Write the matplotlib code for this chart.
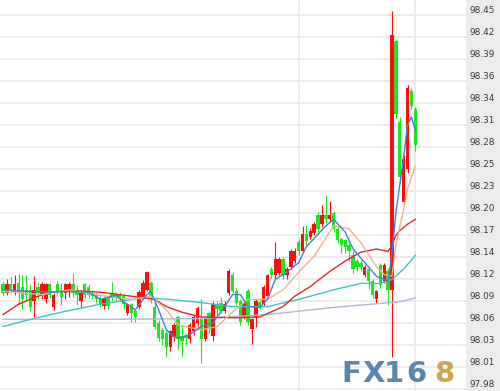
import numpy as np
import matplotlib
matplotlib.use("Agg")
import matplotlib.pyplot as plt
from matplotlib import transforms

# ---- candle data (OHLC), red = up, green = down ----
opens = [98.111, 98.100, 98.111, 98.101, 98.112, 98.108, 98.104, 98.104, 98.090, 98.108,
         98.098, 98.092, 98.111, 98.082, 98.111, 98.104, 98.100, 98.104, 98.111, 98.104,
         98.090, 98.111, 98.108, 98.100, 98.098, 98.092, 98.084, 98.094, 98.100, 98.099,
         98.099, 98.096, 98.075, 98.086, 98.078, 98.083, 98.095, 98.104, 98.113, 98.082,
         98.062, 98.054, 98.050, 98.033, 98.045, 98.070, 98.046, 98.048, 98.042, 98.052,
         98.062, 98.068, 98.042, 98.075, 98.046, 98.086, 98.088, 98.078, 98.100, 98.123,
         98.103, 98.090, 98.070, 98.103, 98.055, 98.070, 98.089, 98.086, 98.096, 98.130,
         98.122, 98.125, 98.142, 98.122, 98.133, 98.140, 98.164, 98.153, 98.174, 98.170,
         98.175, 98.198, 98.186, 98.198, 98.192, 98.200, 98.180, 98.167, 98.166, 98.160,
         98.148, 98.140, 98.138, 98.123, 98.130, 98.115, 98.092, 98.135, 98.115, 98.128,
         98.104, 98.415, 98.314, 98.214, 98.255, 98.353, 98.330]
highs = [98.115, 98.117, 98.120, 98.122, 98.124, 98.122, 98.123, 98.110, 98.121, 98.112,
         98.114, 98.113, 98.113, 98.100, 98.115, 98.113, 98.113, 98.114, 98.125, 98.110,
         98.104, 98.113, 98.111, 98.104, 98.101, 98.096, 98.095, 98.098, 98.114, 98.101,
         98.101, 98.099, 98.088, 98.088, 98.080, 98.104, 98.116, 98.128, 98.115, 98.092,
         98.066, 98.058, 98.054, 98.054, 98.062, 98.073, 98.060, 98.050, 98.062, 98.072,
         98.084, 98.092, 98.070, 98.078, 98.090, 98.090, 98.095, 98.090, 98.130, 98.126,
         98.106, 98.093, 98.090, 98.105, 98.069, 98.092, 98.092, 98.110, 98.124, 98.133,
         98.164, 98.145, 98.145, 98.133, 98.155, 98.156, 98.167, 98.184, 98.185, 98.181,
         98.189, 98.201, 98.210, 98.222, 98.215, 98.203, 98.183, 98.170, 98.168, 98.163,
         98.152, 98.143, 98.141, 98.135, 98.133, 98.118, 98.104, 98.138, 98.138, 98.131,
         98.452, 98.418, 98.320, 98.272, 98.360, 98.356, 98.333]
lows = [98.096, 98.098, 98.100, 98.098, 98.086, 98.080, 98.090, 98.078, 98.070, 98.092,
        98.092, 98.088, 98.094, 98.079, 98.098, 98.085, 98.092, 98.095, 98.095, 98.085,
        98.082, 98.092, 98.094, 98.092, 98.088, 98.082, 98.080, 98.080, 98.090, 98.090,
        98.090, 98.080, 98.072, 98.064, 98.064, 98.080, 98.092, 98.102, 98.088, 98.055,
        98.040, 98.035, 98.020, 98.028, 98.040, 98.030, 98.020, 98.035, 98.038, 98.048,
        98.058, 98.012, 98.040, 98.050, 98.040, 98.070, 98.075, 98.075, 98.097, 98.100,
        98.085, 98.060, 98.067, 98.060, 98.036, 98.058, 98.080, 98.084, 98.094, 98.119,
        98.118, 98.122, 98.118, 98.118, 98.130, 98.137, 98.148, 98.150, 98.160, 98.167,
        98.172, 98.176, 98.183, 98.188, 98.189, 98.176, 98.162, 98.150, 98.150, 98.140,
        98.125, 98.128, 98.128, 98.120, 98.105, 98.094, 98.088, 98.106, 98.112, 98.085,
        98.020, 98.318, 98.238, 98.210, 98.250, 98.330, 98.278]
closes = [98.100, 98.111, 98.104, 98.111, 98.101, 98.092, 98.098, 98.083, 98.104, 98.100,
          98.111, 98.111, 98.098, 98.098, 98.102, 98.095, 98.111, 98.111, 98.100, 98.098,
          98.100, 98.098, 98.098, 98.096, 98.092, 98.086, 98.092, 98.084, 98.094, 98.094,
          98.093, 98.086, 98.086, 98.075, 98.070, 98.101, 98.113, 98.126, 98.095, 98.058,
          98.044, 98.042, 98.033, 98.052, 98.060, 98.042, 98.040, 98.044, 98.060, 98.070,
          98.081, 98.042, 98.067, 98.055, 98.086, 98.080, 98.078, 98.086, 98.128, 98.103,
          98.088, 98.064, 98.088, 98.064, 98.067, 98.090, 98.083, 98.108, 98.122, 98.122,
          98.142, 98.142, 98.122, 98.130, 98.152, 98.153, 98.152, 98.174, 98.165, 98.178,
          98.186, 98.180, 98.198, 98.192, 98.198, 98.180, 98.166, 98.160, 98.158, 98.152,
          98.130, 98.133, 98.132, 98.132, 98.115, 98.098, 98.102, 98.110, 98.135, 98.104,
          98.422, 98.324, 98.245, 98.268, 98.356, 98.334, 98.285]

# ---- moving-average lines (read at candle indices) ----
ma5_idx = [0, 7, 12, 17, 22, 25, 29, 31, 34, 37, 38, 40, 42, 44, 46, 48, 51, 54, 57, 59,
           61, 63, 66, 68, 70, 73, 76, 78, 79, 83, 85, 88, 90, 93, 96, 98, 99, 100, 101,
           102, 103, 104, 105, 106]
ma5_val = [98.104, 98.102, 98.101, 98.102, 98.101, 98.092, 98.097, 98.089, 98.079, 98.098,
           98.102, 98.079, 98.054, 98.045, 98.044, 98.048, 98.058, 98.063, 98.083, 98.098,
           98.098, 98.083, 98.082, 98.092, 98.117, 98.126, 98.138, 98.158, 98.163, 98.184,
           98.192, 98.176, 98.155, 98.138, 98.121, 98.117, 98.114, 98.150, 98.200, 98.235,
           98.270, 98.310, 98.320, 98.303]
ma10_idx = [0, 10, 17, 25, 33, 38, 42, 45, 51, 55, 59, 63, 68, 72, 76, 80, 85, 89, 92, 96,
            98, 100, 101, 103, 104, 106]
ma10_val = [98.102, 98.098, 98.104, 98.097, 98.092, 98.096, 98.079, 98.060, 98.054, 98.058,
            98.076, 98.092, 98.092, 98.104, 98.126, 98.146, 98.184, 98.180, 98.163, 98.133,
            98.123, 98.121, 98.160, 98.205, 98.230, 98.259]
ma20_idx = [0, 4, 8, 12, 18, 25, 33, 39, 42, 46, 51, 60, 66, 72, 75, 79, 84, 88, 92, 96,
            99, 100, 101, 102, 103, 104, 105, 106]
ma20_val = [98.073, 98.086, 98.094, 98.101, 98.103, 98.101, 98.096, 98.092, 98.083, 98.076,
            98.070, 98.069, 98.070, 98.083, 98.096, 98.108, 98.127, 98.140, 98.151, 98.155,
            98.152, 98.160, 98.172, 98.178, 98.182, 98.186, 98.189, 98.192]
ma60_idx = [0, 7, 15, 25, 36, 43, 51, 59, 68, 76, 85, 92, 97, 100, 103, 106]
ma60_val = [98.058, 98.067, 98.076, 98.086, 98.094, 98.092, 98.088, 98.083, 98.083, 98.092,
            98.104, 98.112, 98.112, 98.117, 98.130, 98.147]
ma120_idx = [0, 25, 51, 68, 85, 102, 106]
ma120_val = [98.067, 98.067, 98.068, 98.073, 98.082, 98.089, 98.094]

ytick_labels = ["97.98", "98.01", "98.03", "98.06", "98.09", "98.12", "98.14", "98.17",
                "98.20", "98.23", "98.25", "98.28", "98.31", "98.34", "98.36", "98.39",
                "98.42", "98.45"]
vgrid_idx = [76, 106]

# ---- figure ----
W, H, DPI = 500, 391, 100
fig = plt.figure(figsize=(W / DPI, H / DPI), dpi=DPI, facecolor="#ececec")
ax = fig.add_axes([0, 0, 466 / W, 1])
ax.set_facecolor("white")
for s in ax.spines.values():
    s.set_visible(False)

step = 0.0275
yticks = 97.98 + step * np.arange(len(ytick_labels))
px = step / 22.0
ax.set_ylim(97.98 - 2 * px, yticks[-1] + 15 * px)
x_per_px = 1 / 3.89
ax.set_xlim(-3 * x_per_px, (466 - 3) * x_per_px)

ax.set_yticks(yticks)
ax.set_xticks(vgrid_idx)
ax.grid(True, color="#e9e9e9", linewidth=1.2)
ax.set_axisbelow(True)
ax.tick_params(left=False, right=False, bottom=False, labelleft=False, labelbottom=False)

o = np.array(opens); h = np.array(highs); l = np.array(lows); c = np.array(closes)
idx = np.arange(len(o))
up = c >= o
cols = np.where(up, "#ff0c0c", "#1ee61e")
ax.vlines(idx, l, h, colors=cols, linewidth=0.8, zorder=2)
bottom = np.minimum(o, c)
height = np.maximum(np.abs(c - o), 0.0012)
ax.bar(idx, height, bottom=bottom, width=0.88, color=cols, linewidth=0, zorder=3)

ax.plot(ma120_idx, ma120_val, color="#a9bcd3", linewidth=1.0, zorder=4)
ax.plot(ma60_idx, ma60_val, color="#3cc6c8", linewidth=1.0, zorder=4)
ax.plot(ma20_idx, ma20_val, color="#e0282c", linewidth=1.0, zorder=4)
ax.plot(ma10_idx, ma10_val, color="#f2b08e", linewidth=1.0, zorder=5)
ax.plot(ma5_idx, ma5_val, color="#3c82e6", linewidth=1.0, zorder=6)

# right-side price labels
trans = transforms.blended_transform_factory(ax.transAxes, ax.transData)
off = transforms.ScaledTranslation(3 / 72 * 0.72, 2 / 72 * 0.72, fig.dpi_scale_trans)
for v, lab in zip(yticks, ytick_labels):
    ax.text(1.0, v, lab, transform=trans + off, ha="left", va="baseline",
            fontsize=6.4, color="#383838", family="DejaVu Sans", clip_on=False)

# watermark
wm = [("F", 351, "#5a87ad"), ("X", 374, "#5a87ad"), ("1", 394, "#5a87ad"),
      ("6", 416, "#5a87ad"), ("8", 444, "#cfa552")]
for ch, xp, col in wm:
    fig.text(xp / W, (H - 382) / H, ch, ha="center", va="baseline", fontsize=21,
             fontweight="bold", color=col, family="DejaVu Sans", zorder=10)

fig.savefig("out.png", dpi=DPI, facecolor=fig.get_facecolor())
